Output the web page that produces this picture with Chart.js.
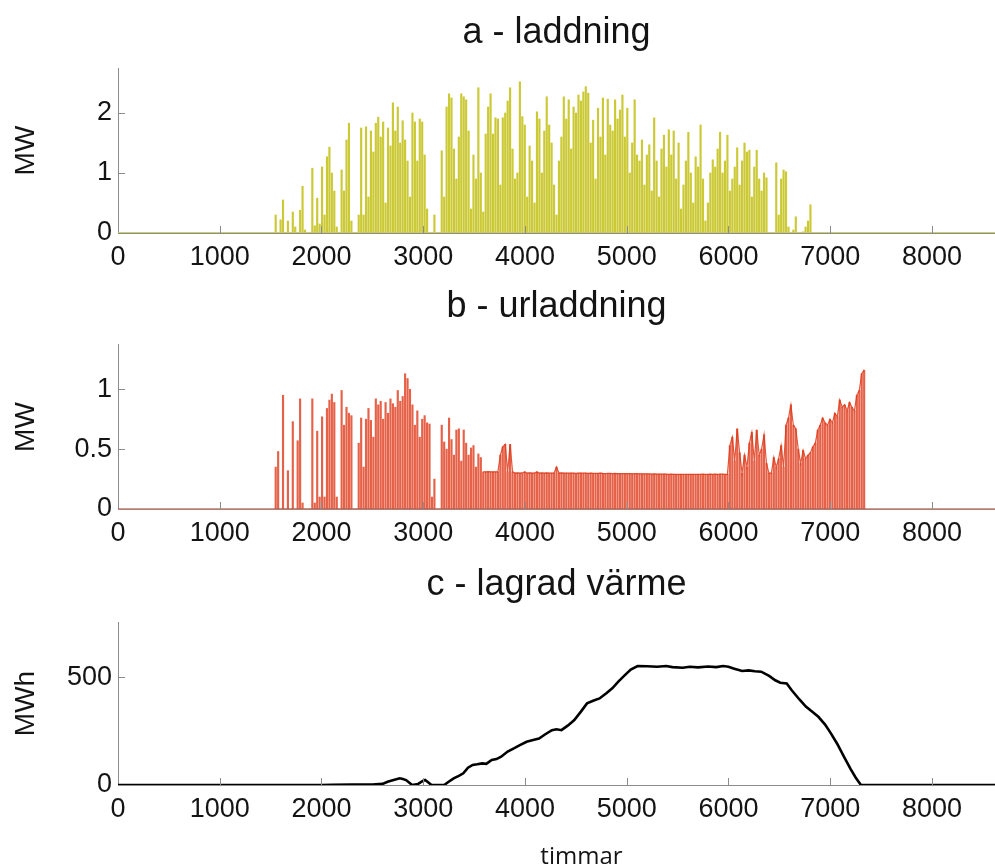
<!DOCTYPE html>
<html>
<head>
<meta charset="utf-8">
<title>Värmelager</title>
<script src="https://cdn.jsdelivr.net/npm/chart.js@4.4.1/dist/chart.umd.min.js"></script>
<style>
  html, body { margin: 0; padding: 0; background: #fff; overflow: hidden; }
  .panel { position: absolute; left: 0; width: 995px; }
</style>
</head>
<body>
<div class="panel" style="top:0px;height:283px"><canvas id="laddning" width="995" height="283"></canvas></div>
<div class="panel" style="top:283px;height:276px"><canvas id="urladdning" width="995" height="276"></canvas></div>
<div class="panel" style="top:559px;height:320px"><canvas id="lager" width="995" height="320"></canvas></div>
<script>
(() => {
  'use strict'

  // x-axel: timmar under året
  const xMax = 8620
  const xTicks = [0, 1000, 2000, 3000, 4000, 5000, 6000, 7000, 8000]

  // a - laddning, ett värde per dygn från timme 1550
  const laddStart = 1550
  const laddMW = [
    0.30, 0.00, 0.22, 0.55, 0.00, 0.20, 0.00, 0.35, 0.10, 0.00,
    0.38, 0.78, 0.05, 0.00, 0.00, 1.08, 0.12, 0.58, 0.15, 1.10,
    0.30, 1.27, 1.43, 1.00, 0.70, 0.10, 0.00, 1.05, 0.70, 1.55,
    1.83, 0.20, 0.00, 0.00, 0.30, 1.75, 0.30, 1.77, 0.60, 1.70,
    1.35, 1.83, 1.93, 1.60, 1.85, 0.50, 1.75, 1.45, 2.17, 1.70,
    2.10, 1.50, 1.87, 1.55, 1.20, 0.60, 2.00, 1.85, 1.20, 1.90,
    1.85, 1.30, 0.40, 0.00, 0.00, 0.30, 0.00, 0.00, 1.37, 0.60,
    2.10, 2.32, 2.25, 1.40, 0.90, 1.60, 2.32, 2.27, 2.22, 1.70,
    0.40, 1.30, 0.90, 2.42, 1.00, 0.35, 1.65, 2.10, 2.32, 1.65,
    1.92, 1.90, 0.80, 1.92, 2.00, 2.20, 2.42, 1.40, 0.90, 1.00,
    2.52, 1.94, 1.80, 0.60, 1.45, 1.20, 0.50, 2.02, 1.90, 1.00,
    1.70, 2.27, 1.80, 1.50, 0.80, 0.30, 1.20, 1.60, 2.27, 1.90,
    2.22, 1.40, 2.10, 2.00, 2.30, 2.20, 2.35, 2.44, 2.33, 1.50,
    1.88, 0.90, 2.08, 1.60, 2.25, 1.30, 2.23, 1.80, 1.70, 2.22,
    1.90, 2.05, 2.30, 1.60, 2.08, 1.00, 1.50, 2.22, 1.30, 1.20,
    1.55, 0.80, 1.30, 1.47, 0.70, 1.92, 1.20, 0.60, 1.40, 1.63,
    1.10, 1.72, 1.30, 1.70, 0.90, 1.50, 0.40, 0.80, 1.20, 1.68,
    1.00, 0.50, 1.27, 1.10, 1.80, 0.90, 0.20, 0.50, 1.00, 1.22,
    1.10, 1.40, 1.68, 1.00, 1.20, 1.63, 0.70, 0.90, 1.10, 1.42,
    0.80, 1.20, 1.50, 1.35, 1.38, 0.60, 1.10, 1.38, 0.90, 0.70,
    1.00, 0.92, 0.00, 0.00, 0.00, 1.17, 0.30, 0.90, 1.05, 1.02,
    0.10, 0.00, 0.05, 0.27, 0.00, 0.00, 0.02, 0.10, 0.20, 0.47,
    0.00
  ]
  const laddYTicks = [0, 1, 2]

  // b - urladdning, ett värde per dygn från timme 1550
  const urlStart = 1550
  const urlMW = [
    0.35, 0.48, 0.00, 0.95, 0.00, 0.32, 0.00, 0.73, 0.00, 0.57,
    0.92, 0.05, 0.00, 0.00, 0.00, 0.92, 0.05, 0.65, 0.10, 0.77,
    0.10, 0.84, 0.91, 0.96, 0.89, 0.10, 0.00, 0.99, 0.70, 0.85,
    0.80, 0.78, 0.00, 0.00, 0.55, 0.76, 0.35, 0.75, 0.84, 0.74,
    0.60, 0.92, 0.87, 0.90, 0.75, 0.89, 0.80, 0.92, 0.88, 0.85,
    0.99, 0.90, 0.94, 1.13, 1.09, 1.00, 0.87, 0.70, 0.82, 0.60,
    0.75, 0.78, 0.72, 0.71, 0.10, 0.25, 0.00, 0.00, 0.70, 0.56,
    0.50, 0.76, 0.58, 0.45, 0.66, 0.67, 0.40, 0.66, 0.55, 0.45,
    0.51, 0.53, 0.35, 0.46, 0.43, 0.31, 0.31, 0.312, 0.31, 0.31,
    0.31, 0.31, 0.45, 0.52, 0.54, 0.31, 0.54, 0.31, 0.30, 0.302,
    0.30, 0.301, 0.31, 0.30, 0.302, 0.30, 0.30, 0.31, 0.30, 0.301,
    0.30, 0.302, 0.30, 0.30, 0.30, 0.35, 0.30, 0.301, 0.30, 0.30,
    0.299, 0.30, 0.30, 0.298, 0.30, 0.30, 0.299, 0.30, 0.298, 0.30,
    0.298, 0.297, 0.298, 0.30, 0.297, 0.296, 0.297, 0.297, 0.296, 0.297,
    0.296, 0.295, 0.296, 0.295, 0.296, 0.295, 0.294, 0.295, 0.295, 0.294,
    0.294, 0.293, 0.294, 0.293, 0.292, 0.293, 0.292, 0.292, 0.291, 0.292,
    0.291, 0.290, 0.291, 0.290, 0.290, 0.289, 0.290, 0.290, 0.289, 0.290,
    0.290, 0.290, 0.289, 0.290, 0.290, 0.291, 0.290, 0.290, 0.291, 0.290,
    0.291, 0.290, 0.291, 0.291, 0.290, 0.29, 0.53, 0.60, 0.40, 0.67,
    0.47, 0.30, 0.45, 0.35, 0.55, 0.64, 0.40, 0.66, 0.45, 0.50,
    0.62, 0.38, 0.30, 0.30, 0.43, 0.35, 0.42, 0.53, 0.35, 0.70,
    0.76, 0.87, 0.70, 0.67, 0.50, 0.38, 0.49, 0.42, 0.45, 0.47,
    0.52, 0.55, 0.66, 0.70, 0.76, 0.72, 0.70, 0.75, 0.72, 0.80,
    0.77, 0.91, 0.85, 0.87, 0.82, 0.89, 0.85, 0.82, 0.95, 0.99,
    1.13, 1.16
  ]
  // index där urladdningen blir sammanhängande (timme 3590)
  const urlSammanhangFran = 85
  const urlYTicks = [0, 0.5, 1]

  // c - lagrad värme
  const lagTim = [
    0, 2000, 2100, 2300, 2500, 2600, 2650, 2700, 2770, 2800, 2831, 2870, 2891,
    2950, 3000, 3019, 3060, 3081, 3206, 3250, 3299, 3350, 3394, 3440, 3486,
    3530, 3580, 3620, 3673, 3720, 3766, 3830, 3891, 3950, 4016, 4080, 4138,
    4200, 4265, 4310, 4359, 4420, 4485, 4550, 4610, 4670, 4733, 4800, 4858,
    4920, 4982, 5040, 5107, 5200, 5300, 5387, 5450, 5550, 5620, 5701, 5800,
    5880, 5947, 6000, 6050, 6134, 6200, 6260, 6322, 6400, 6460, 6510, 6573,
    6620, 6700, 6761, 6830, 6884, 6950, 7007, 7070, 7135, 7200, 7250, 7302,
    8620
  ]
  const lagMWh = [
    0, 0, 1, 2, 2, 5, 15, 22, 31, 28, 23, 8, 0,
    5, 20, 23, 8, 0, 0, 15, 31, 42, 54, 80, 93,
    96, 100, 98, 116, 120, 131, 155, 170, 185, 200, 208, 215,
    235, 254, 258, 254, 275, 301, 340, 378, 390, 401, 425, 448,
    480, 509, 535, 551, 550, 548, 551, 546, 543, 548, 545, 549,
    546, 551, 548, 540, 528, 531, 527, 525, 505, 485, 474, 470,
    440, 395, 363, 337, 316, 280, 239, 190, 131, 75, 35, 0,
    0
  ]
  const lagYTicks = [0, 500]

  const axisGray = '#8c8c8c'
  const textColor = '#141414'
  const fontFamily = "'Liberation Sans', Arial, Helvetica, sans-serif"

  // korta tickmarkeringar som pekar in i diagrammet
  const inwardTicks = {
    id: 'inwardTicks',
    afterDatasetsDraw(chart) {
      const {ctx, chartArea, scales} = chart
      ctx.save()
      ctx.strokeStyle = axisGray
      ctx.lineWidth = 1
      ctx.beginPath()
      scales.x.ticks.forEach(t => {
        if (t.value === 0) return
        const px = Math.round(scales.x.getPixelForValue(t.value)) + 0.5
        ctx.moveTo(px, chartArea.bottom)
        ctx.lineTo(px, chartArea.bottom - 7)
      })
      scales.y.ticks.forEach(t => {
        if (t.value === 0) return
        const py = Math.round(scales.y.getPixelForValue(t.value)) + 0.5
        ctx.moveTo(chartArea.left, py)
        ctx.lineTo(chartArea.left + 7, py)
      })
      ctx.stroke()
      ctx.restore()
    }
  }

  function options(cfg) {
    return {
      responsive: false,
      animation: false,
      events: [],
      layout: {padding: 0},
      plugins: {
        legend: {display: false},
        tooltip: {enabled: false},
        title: {
          display: true,
          text: cfg.title,
          fullSize: false,
          color: textColor,
          font: {family: fontFamily, size: 36, weight: 'normal', lineHeight: 1.2},
          padding: cfg.titlePad
        }
      },
      scales: {
        x: {
          type: 'linear',
          min: 0,
          max: xMax,
          offset: false,
          afterBuildTicks: s => { s.ticks = xTicks.map(v => ({value: v})) },
          afterFit: s => { s.height = cfg.xHeight },
          grid: {display: false, drawTicks: false, offset: false},
          border: {display: true, color: axisGray, width: 1},
          ticks: {
            color: textColor,
            padding: 8,
            maxRotation: 0,
            autoSkip: false,
            font: {family: fontFamily, size: 27},
            callback: v => String(v)
          },
          title: cfg.xTitle ? {
            display: true,
            text: cfg.xTitle,
            color: textColor,
            font: {family: "'Open Sans', sans-serif", size: 24, lineHeight: 1.2},
            padding: {top: 0, bottom: 7}
          } : {display: false}
        },
        y: {
          min: 0,
          max: cfg.yMax,
          afterBuildTicks: s => { s.ticks = cfg.yTicks.map(v => ({value: v})) },
          afterFit: s => { s.width = 118 },
          grid: {display: false, drawTicks: false},
          border: {display: true, color: axisGray, width: 1},
          ticks: {
            color: textColor,
            padding: 6,
            autoSkip: false,
            font: {family: fontFamily, size: 27},
            callback: v => String(v)
          },
          title: {
            display: true,
            text: cfg.yTitle,
            color: textColor,
            font: {family: fontFamily, size: 28, lineHeight: 1.2},
            padding: {top: 9, bottom: 0}
          }
        }
      }
    }
  }

  const perDygn = (start, values) => values.map((v, i) => ({x: start + i * 24, y: v}))
  const nollLinje = [{x: 0, y: 0}, {x: xMax, y: 0}]

  // a - laddning
  new Chart(document.getElementById('laddning'), {
    type: 'bar',
    data: {
      datasets: [{
        type: 'line',
        data: nollLinje,
        borderColor: 'rgba(200,204,90,0.9)',
        borderWidth: 2,
        pointRadius: 0
      }, {
        data: perDygn(laddStart, laddMW),
        backgroundColor: 'rgba(194,192,18,0.85)',
        barThickness: 1.5
      }]
    },
    options: options({
      title: 'a - laddning',
      titlePad: {top: 11.4, bottom: 13.4},
      yTitle: 'MW',
      yMax: 2.75,
      yTicks: laddYTicks,
      xHeight: 50
    }),
    plugins: [inwardTicks]
  })

  // b - urladdning
  const urlPunkter = perDygn(urlStart, urlMW)
  new Chart(document.getElementById('urladdning'), {
    type: 'bar',
    data: {
      datasets: [{
        type: 'line',
        data: nollLinje,
        borderColor: 'rgba(226,70,40,0.8)',
        borderWidth: 1.5,
        pointRadius: 0
      }, {
        type: 'line',
        data: urlPunkter.slice(urlSammanhangFran),
        borderColor: 'rgba(222,60,28,0.85)',
        borderWidth: 1.2,
        pointRadius: 0
      }, {
        data: urlPunkter,
        backgroundColor: 'rgba(222,58,26,0.8)',
        barThickness: 1.5
      }]
    },
    options: options({
      title: 'b - urladdning',
      titlePad: {top: 2.4, bottom: 16.4},
      yTitle: 'MW',
      yMax: 1.37,
      yTicks: urlYTicks,
      xHeight: 50
    }),
    plugins: [inwardTicks]
  })

  // c - lagrad värme
  new Chart(document.getElementById('lager'), {
    type: 'line',
    data: {
      datasets: [{
        data: lagTim.map((t, i) => ({x: t, y: lagMWh[i]})),
        borderColor: '#000',
        borderWidth: 2.6,
        pointRadius: 0,
        tension: 0
      }]
    },
    options: options({
      title: 'c - lagrad värme',
      titlePad: {top: 4.4, bottom: 15.4},
      yTitle: 'MWh',
      yMax: 755,
      yTicks: lagYTicks,
      xHeight: 94,
      // axeltiteln står en bit till höger om axelns mitt
      xTitle: '\u00a0'.repeat(8) + 'timmar'
    }),
    plugins: [inwardTicks]
  })
})()
</script>
</body>
</html>
